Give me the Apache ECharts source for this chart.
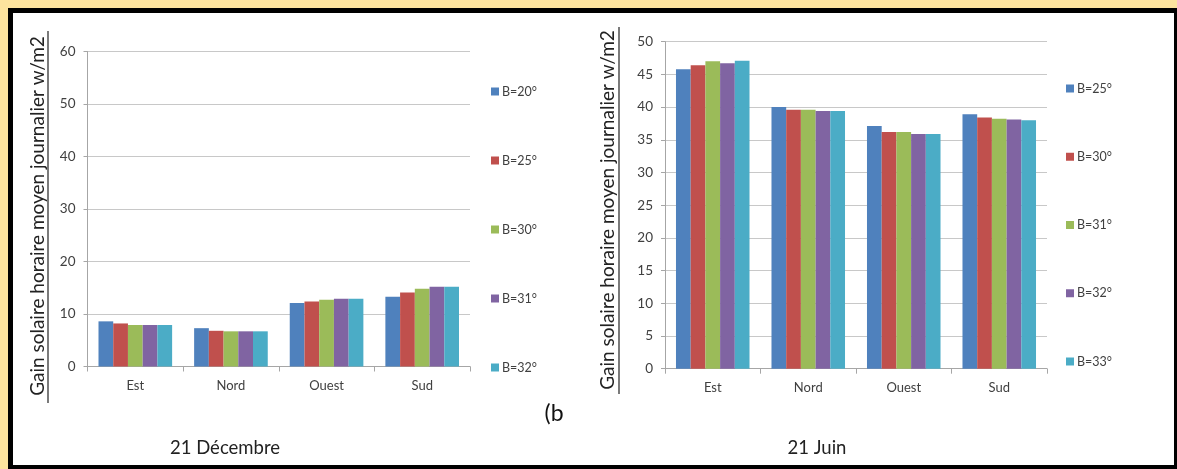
<!DOCTYPE html>
<html>
<head>
<meta charset="utf-8">
<script src="https://cdn.jsdelivr.net/npm/echarts@6/dist/echarts.min.js"></script>
<style>
  html, body { margin: 0; padding: 0; background: #FCE39E; }
  .c { position: absolute; left: 0; top: 0; width: 1177px; height: 469px; }
</style>
</head>
<body>
<div id="c1" class="c"></div>
<div id="c2" class="c"></div>
<script>
// ---- data ----
const categories = ['Est', 'Nord', 'Ouest', 'Sud'];

const decNames = ['B=20°', 'B=25°', 'B=30°', 'B=31°', 'B=32°'];
const decB20 = [8.6, 7.3, 12.1, 13.3];
const decB25 = [8.2, 6.8, 12.4, 14.1];
const decB30 = [7.9, 6.7, 12.7, 14.8];
const decB31 = [7.9, 6.7, 12.9, 15.2];
const decB32 = [7.9, 6.7, 12.9, 15.2];

const junNames = ['B=25°', 'B=30°', 'B=31°', 'B=32°', 'B=33°'];
const junB25 = [45.8, 40.0, 37.1, 38.9];
const junB30 = [46.4, 39.6, 36.2, 38.4];
const junB31 = [47.0, 39.6, 36.2, 38.2];
const junB32 = [46.7, 39.4, 35.9, 38.1];
const junB33 = [47.1, 39.4, 35.9, 38.0];

const decTicks = { min: 0, max: 60, interval: 10 };
const junTicks = { min: 0, max: 50, interval: 5 };

const yTitle = 'Gain solaire horaire moyen journalier w/m2';
const decTitle = '21 Décembre';
const junTitle = '21 Juin';
const panelTag = '(b';

// ---- style ----
const colors = ['#4F81BD', '#C0504D', '#9BBB59', '#8064A2', '#4BACC6'];
const FONT = 'Lato, "Open Sans", sans-serif';
const TXT = '#404040';

function makeOption(cfg) {
  const series = cfg.values.map((v, i) => ({
    name: cfg.names[i],
    type: 'bar',
    data: v,
    barGap: '0%',
    barCategoryGap: '23%',
    itemStyle: { color: colors[i] },
    emphasis: { disabled: true },
    animation: false
  }));
  return {
    animation: false,
    textStyle: { fontFamily: FONT },
    grid: { left: cfg.gridLeft, top: cfg.gridTop, width: cfg.gridWidth, height: cfg.gridHeight },
    xAxis: {
      type: 'category',
      data: categories,
      axisLine: { lineStyle: { color: '#A6A6A6', width: 1 } },
      axisTick: { show: true, length: 5, lineStyle: { color: '#A6A6A6' } },
      axisLabel: { color: TXT, fontSize: 13, fontFamily: FONT, margin: 13 }
    },
    yAxis: {
      type: 'value',
      min: cfg.ticks.min, max: cfg.ticks.max, interval: cfg.ticks.interval,
      axisLine: { show: true, lineStyle: { color: '#A6A6A6', width: 1 } },
      axisTick: { show: true, length: 4, lineStyle: { color: '#A6A6A6' } },
      axisLabel: { color: TXT, fontSize: 13.5, fontFamily: FONT, margin: 12 },
      splitLine: { show: true, lineStyle: { color: '#C8C8C8', width: 1 } }
    },
    legend: {
      orient: 'vertical',
      left: cfg.legendLeft,
      top: cfg.legendTop,
      itemWidth: 8, itemHeight: 8,
      itemGap: cfg.legendGap,
      icon: 'rect',
      selectedMode: false,
      data: cfg.names,
      textStyle: { color: TXT, fontSize: 12.5, fontFamily: FONT, padding: [0, 0, 0, -2] }
    },
    graphic: cfg.graphic,
    series: series
  };
}

function yTitleGraphic(cx, cy, ux, y1, y2) {
  return [
    {
      type: 'text',
      x: cx, y: cy,
      rotation: Math.PI / 2,
      style: {
        text: yTitle,
        fontSize: 19, fontFamily: FONT, fill: '#222',
        textAlign: 'center', textVerticalAlign: 'middle'
      },
      z: 10
    },
    {
      type: 'line',
      shape: { x1: ux, y1: y1, x2: ux, y2: y2 },
      style: { stroke: '#222', lineWidth: 1.2 },
      z: 10
    }
  ];
}

const decGraphic = [
  { type: 'rect', shape: { x: 8, y: 8, width: 1169, height: 461 }, style: { fill: '#000' }, z: -10 },
  { type: 'rect', shape: { x: 13, y: 13, width: 1161, height: 452 }, style: { fill: '#fff' }, z: -9 },
  ...yTitleGraphic(38, 216, 48, 31, 403),
  { type: 'text', x: 225, y: 448, style: { text: decTitle, fontSize: 18.5, fontFamily: FONT, fill: '#222', textAlign: 'center', textVerticalAlign: 'middle' } },
  { type: 'text', x: 554, y: 414, style: { text: panelTag, fontSize: 23, fontFamily: FONT, fill: '#111', textAlign: 'center', textVerticalAlign: 'middle' } }
];

const junGraphic = [
  ...yTitleGraphic(608, 210, 619, 27, 394),
  { type: 'text', x: 817, y: 448, style: { text: junTitle, fontSize: 18.5, fontFamily: FONT, fill: '#222', textAlign: 'center', textVerticalAlign: 'middle' } }
];

const c1 = echarts.init(document.getElementById('c1'), null, { renderer: 'canvas' });
c1.setOption(makeOption({
  names: decNames,
  values: [decB20, decB25, decB30, decB31, decB32],
  ticks: decTicks,
  gridLeft: 87.5, gridTop: 51.5, gridWidth: 382.5, gridHeight: 315,
  legendLeft: 486, legendTop: 80, legendGap: 56,
  graphic: decGraphic
}));

const c2 = echarts.init(document.getElementById('c2'), null, { renderer: 'canvas' });
c2.setOption(makeOption({
  names: junNames,
  values: [junB25, junB30, junB31, junB32, junB33],
  ticks: junTicks,
  gridLeft: 665, gridTop: 41.7, gridWidth: 382, gridHeight: 327,
  legendLeft: 1061, legendTop: 77, legendGap: 55.25,
  graphic: junGraphic
}));
</script>
</body>
</html>
